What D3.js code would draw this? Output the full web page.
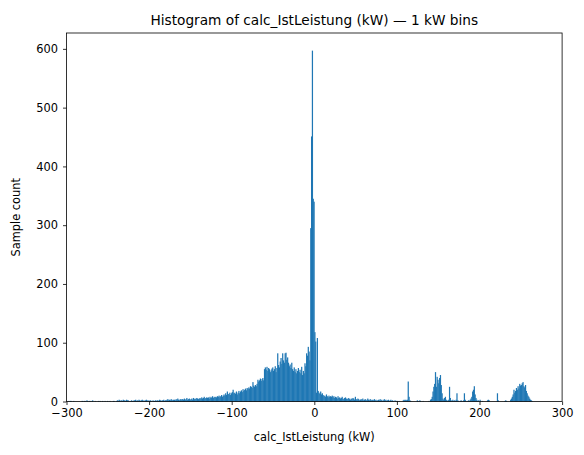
<!DOCTYPE html>
<html>
<head>
<meta charset="utf-8">
<script src="https://cdn.jsdelivr.net/npm/d3@7"></script>
<style>
  body { margin: 0; background: #fff; }
  svg { display: block; font-family: "DejaVu Sans", sans-serif; }
</style>
</head>
<body>
<svg id="chart" width="584" height="455"></svg>
<script>
// sample counts per 1 kW bin (first bin starts at binStart)
var binStart = -300;
var countsNeg300 = [ // -300 .. -201
  0,0,1,0,1,1,0,0,1,0, 0,0,0,0,0,0,0,0,1,1, 0,1,1,0,2,1,0,1,1,0, 1,2,0,0,1,0,0,0,1,0,
  1,0,0,1,0,0,1,0,0,1, 0,0,1,0,0,0,1,1,0,0, 1,2,1,3,2,1,2,1,3,2, 2,1,3,2,2,1,0,1,2,1,
  1,2,2,3,1,2,1,3,2,1, 2,3,1,2,1,2,3,2,1,2
];
var countsNeg200 = [ // -200 .. -101
  1,2,1,0,2,1,1,2,1,2, 2,1,3,2,1,2,2,3,1,2, 2,3,4,2,3,2,4,3,2,3, 3,2,4,3,5,3,2,4,3,4,
  4,3,5,3,4,6,3,4,5,3, 4,5,3,6,4,5,4,6,5,4, 5,6,4,7,5,6,8,5,6,7, 6,7,5,8,6,7,9,6,8,7,
  8,7,9,8,10,7,9,11,8,10, 12,10,14,11,17,13,12,15,11,14
];
var countsNeg100 = [ // -100 .. -1
  16,20,14,15,13,17,12,15,18,14, 17,19,16,21,18,20,22,19,23,21,
  24,22,26,25,23,33,27,25,28,26, 30,37,34,36,39,35,38,40,36,55,
  58,54,59,52,57,55,50,53,56,58, 52,55,60,50,57,82,62,58,68,74,
  64,82,70,66,82,83,71,75,66,60, 63,57,66,55,52,58,50,55,48,52,
  57,50,54,48,59,45,52,48,65,60, 82,78,93,85,70,295,451,597,345,340
];
var countsPos0 = [ // 0 .. 99
  118,102,15,108,18,15,13,17,12,14, 11,9,10,8,12,9,7,10,8,9,
  8,10,7,9,6,8,7,5,9,6, 7,5,6,8,5,4,6,7,5,4,
  5,6,4,3,5,4,6,5,3,8, 4,3,5,4,2,3,4,3,5,2,
  3,4,2,3,5,3,2,4,3,2, 3,2,4,2,3,1,2,3,2,4,
  2,3,1,2,4,2,3,1,2,3, 1,2,3,1,2,1,0,2,1,1
];
var countsPos100 = [ // 100 .. 199
  1,0,1,0,0,0,0,2,3,2, 3,2,3,34,8,2,1,0,0,0,
  0,0,0,0,2,1,0,2,1,0, 0,1,0,0,0,0,0,0,1,0,
  3,4,8,17,25,30,50,25,42,37, 31,40,45,28,14,5,3,6,8,3,
  2,1,3,25,6,2,1,3,1,2, 1,3,14,2,1,0,1,2,1,0,
  2,14,3,1,0,1,2,1,3,5, 8,17,20,26,12,6,3,1,2,0
];
var countsPos200 = [ // 200 .. 299
  3,1,0,1,0,0,0,0,0,2, 3,2,0,0,0,0,0,0,0,0,
  0,14,2,0,0,0,0,0,0,0, 1,2,1,0,0,0,0,3,5,8,
  12,20,15,18,23,20,26,22,30,27, 28,31,33,26,24,28,18,14,10,8,
  5,3,2,1,0,0,0,0,0,0, 0,0,0,0,0,0,0,0,0,0,
  0,0,0,0,0,0,0,0,0,0, 0,0,0,0,0,0,0,0,0,0
];
var xTicks = [-300, -200, -100, 0, 100, 200, 300];
var yTicks = [0, 100, 200, 300, 400, 500, 600];
var titleText = "Histogram of calc_IstLeistung (kW) \u2014 1 kW bins";
var xLabelText = "calc_IstLeistung (kW)";
var yLabelText = "Sample count";

var counts = [].concat(countsNeg300, countsNeg200, countsNeg100, countsPos0, countsPos100, countsPos200);
var bins = counts.map(function(c, i) { return {x0: binStart + i, x1: binStart + i + 1, count: c}; });

var plotLeft = 66.5, plotRight = 562.1, plotTop = 33, plotBottom = 401.5;
var barColor = "#1f77b4";
var seamOverlap = 0.4; // hide antialiasing seams between sub-pixel bars

var svg = d3.select("#chart");
var x = d3.scaleLinear().domain([-300, 300]).range([plotLeft, plotRight]);
var y = d3.scaleLinear().domain([0, 627]).range([plotBottom, plotTop]);

svg.append("g")
   .selectAll("rect")
   .data(bins.filter(function(d) { return d.count > 0; }))
   .enter()
   .append("rect")
   .attr("x", function(d) { return x(d.x0); })
   .attr("width", function(d) { return x(d.x1) - x(d.x0) + seamOverlap; })
   .attr("y", function(d) { return y(d.count); })
   .attr("height", function(d) { return y(0) - y(d.count); })
   .attr("fill", barColor);

// frame
svg.append("rect")
   .attr("x", plotLeft).attr("y", plotTop)
   .attr("width", plotRight - plotLeft).attr("height", plotBottom - plotTop)
   .attr("fill", "none").attr("stroke", "#000").attr("stroke-width", 0.8);

var xAxis = svg.append("g")
   .attr("transform", "translate(0," + plotBottom + ")")
   .call(d3.axisBottom(x).tickValues(xTicks).tickSize(3.5).tickPadding(3.5).tickFormat(d3.format("d")));
var yAxis = svg.append("g")
   .attr("transform", "translate(" + plotLeft + ",0)")
   .call(d3.axisLeft(y).tickValues(yTicks).tickSize(3.5).tickPadding(5).tickFormat(d3.format("d")));

[xAxis, yAxis].forEach(function(g) {
  g.select(".domain").remove();
  g.selectAll(".tick line").attr("stroke", "#000").attr("stroke-width", 0.8);
  g.selectAll(".tick text").attr("fill", "#000")
   .style("font-family", "DejaVu Sans, sans-serif").style("font-size", "11.4px");
});

svg.append("text")
   .attr("x", (plotLeft + plotRight) / 2).attr("y", 24.5)
   .attr("text-anchor", "middle")
   .style("font-size", "13.7px")
   .text(titleText);

svg.append("text")
   .attr("x", (plotLeft + plotRight) / 2).attr("y", 441)
   .attr("text-anchor", "middle")
   .style("font-size", "11.4px")
   .text(xLabelText);

svg.append("text")
   .attr("transform", "translate(20," + ((plotTop + plotBottom) / 2) + ") rotate(-90)")
   .attr("text-anchor", "middle")
   .style("font-size", "11.4px")
   .text(yLabelText);
</script>
</body>
</html>
